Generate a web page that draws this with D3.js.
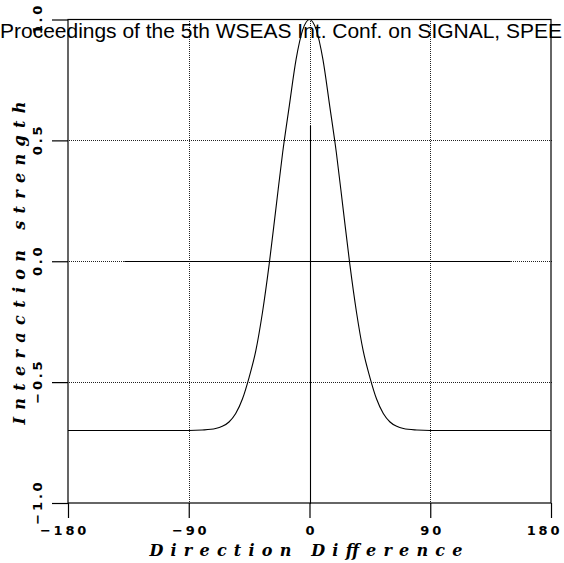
<!DOCTYPE html>
<html>
<head>
<meta charset="utf-8">
<script src="https://cdn.jsdelivr.net/npm/d3@7/dist/d3.min.js"></script>
<style>
  html, body { margin: 0; padding: 0; background: #fff; overflow: hidden; }
  svg { display: block; }
</style>
</head>
<body>
<script>
// ---- data ----
const xTicks = [-180, -90, 0, 90, 180];
const yTicks = [-1.0, -0.5, 0.0, 0.5, 1.0];
const gridX = [-90, 0, 90];
const gridY = [-0.5, 0.0, 0.5];
const curveX = [-180, -150, -120, -100, -90, -80, -70, -65, -60, -55, -50, -45, -40, -35, -30, -25, -20, -15, -10, -5, 0,
                5, 10, 15, 20, 25, 30, 35, 40, 45, 50, 55, 60, 65, 70, 80, 90, 100, 120, 150, 180];
const curveY = [-0.70, -0.70, -0.70, -0.70, -0.700, -0.698, -0.692, -0.683, -0.665, -0.630, -0.570, -0.480, -0.370, -0.210, -0.010, 0.220, 0.450, 0.645, 0.835, 0.958, 1.000,
                0.958, 0.835, 0.645, 0.450, 0.220, -0.010, -0.210, -0.370, -0.480, -0.570, -0.630, -0.665, -0.683, -0.692, -0.698, -0.700, -0.70, -0.70, -0.70, -0.70];
const zeroLineX = [-138, 150];
const zeroLineY = [0, 0];
const vertLineX = [0, 0];
const vertLineY = [-1.0, 0.56];
const titleText = "Proceedings of the 5th WSEAS Int. Conf. on SIGNAL, SPEE";
const xLabel = "Direction Difference";
const yLabel = "Interaction strength";

const W = 564, H = 563;
const svg = d3.select("body").append("svg").attr("width", W).attr("height", H);

const x = d3.scaleLinear().domain([-180, 180]).range([68, 551]);
const y = d3.scaleLinear().domain([-1, 1]).range([503, 19.5]);
const px = v => Math.round(x(v)) + 0.5;
const py = v => Math.round(y(v)) + 0.5;

const fmtY = d => (d < 0 ? "\u2212" : "") + Math.abs(d).toFixed(1);
const fmtX = d => (d < 0 ? "\u2212" : "") + Math.abs(d);

// grid (dotted)
const grid = svg.append("g").attr("stroke", "#222").attr("stroke-width", 1)
  .attr("stroke-dasharray", "1,1").attr("fill", "none").attr("shape-rendering", "crispEdges");
grid.selectAll("line.gx").data(gridX).join("line").attr("class", "gx")
  .attr("x1", d => px(d)).attr("x2", d => px(d))
  .attr("y1", py(1)).attr("y2", py(-1));
grid.selectAll("line.gy").data(gridY).join("line").attr("class", "gy")
  .attr("x1", px(-180)).attr("x2", px(180))
  .attr("y1", d => py(d)).attr("y2", d => py(d));

// solid reference lines
svg.append("path").datum(d3.zip(zeroLineX, zeroLineY))
  .attr("d", d3.line().x(d => x(d[0])).y(d => py(d[1])))
  .attr("stroke", "#000").attr("stroke-width", 1.1).attr("fill", "none");
svg.append("path").datum(d3.zip(vertLineX, vertLineY))
  .attr("d", d3.line().x(d => px(d[0])).y(d => y(d[1])))
  .attr("stroke", "#000").attr("stroke-width", 1.1).attr("fill", "none");

// axes
const xAxis = d3.axisBottom(x).tickValues(xTicks).tickSize(15).tickFormat(fmtX);
const yAxis = d3.axisLeft(y).tickValues(yTicks).tickSize(16).tickFormat(fmtY);

const gx = svg.append("g").attr("transform", `translate(0,${y(-1)})`).call(xAxis);
const gy = svg.append("g").attr("transform", `translate(${x(-180)},0)`).call(yAxis);

[gx, gy].forEach(g => {
  g.select(".domain").remove();
  g.selectAll(".tick line").attr("stroke", "#000").attr("stroke-width", 1.2);
  g.selectAll("text")
    .attr("font-family", "'DejaVu Sans', sans-serif")
    .attr("font-size", 13)
    .attr("font-weight", "bold")
    .attr("letter-spacing", 2.8)
    .attr("fill", "#000");
});
gx.selectAll(".tick text").attr("dy", "0.71em").attr("y", 23)
  .attr("dx", d => d === -180 ? -4 : (d === 180 ? -7 : 1.4));
gy.selectAll(".tick text")
  .attr("text-anchor", "middle")
  .attr("x", null).attr("dy", null)
  .attr("transform", "translate(-26,0) rotate(-90)")
  .attr("y", 0)
  .attr("dx", 1.4);

// frame
svg.append("rect").attr("x", x(-180)).attr("y", y(1)).attr("width", x(180) - x(-180)).attr("height", y(-1) - y(1))
  .attr("fill", "none").attr("stroke", "#000").attr("stroke-width", 1.2);

// curve
svg.append("path").datum(d3.zip(curveX, curveY))
  .attr("d", d3.line().x(d => x(d[0])).y(d => y(d[1])).curve(d3.curveMonotoneX))
  .attr("stroke", "#000").attr("stroke-width", 1.1).attr("fill", "none");

// axis titles
svg.append("text").text(xLabel)
  .attr("x", 306).attr("y", 556)
  .attr("text-anchor", "middle")
  .attr("font-family", "'DejaVu Serif', serif").attr("font-style", "italic").attr("font-weight", "bold")
  .attr("font-size", 16).attr("textLength", 313).attr("lengthAdjust", "spacing");
svg.append("text").text(yLabel)
  .attr("transform", "translate(25,263) rotate(-90)")
  .attr("text-anchor", "middle")
  .attr("font-family", "'DejaVu Serif', serif").attr("font-style", "italic").attr("font-weight", "bold")
  .attr("font-size", 16).attr("textLength", 323).attr("lengthAdjust", "spacing");

// overlay header text
svg.append("text").text(titleText)
  .attr("x", 0).attr("y", 38)
  .attr("font-family", "'Liberation Sans', Arial, sans-serif")
  .attr("font-size", 20.5).attr("textLength", 562).attr("lengthAdjust", "spacingAndGlyphs")
  .attr("fill", "#000");
</script>
</body>
</html>
